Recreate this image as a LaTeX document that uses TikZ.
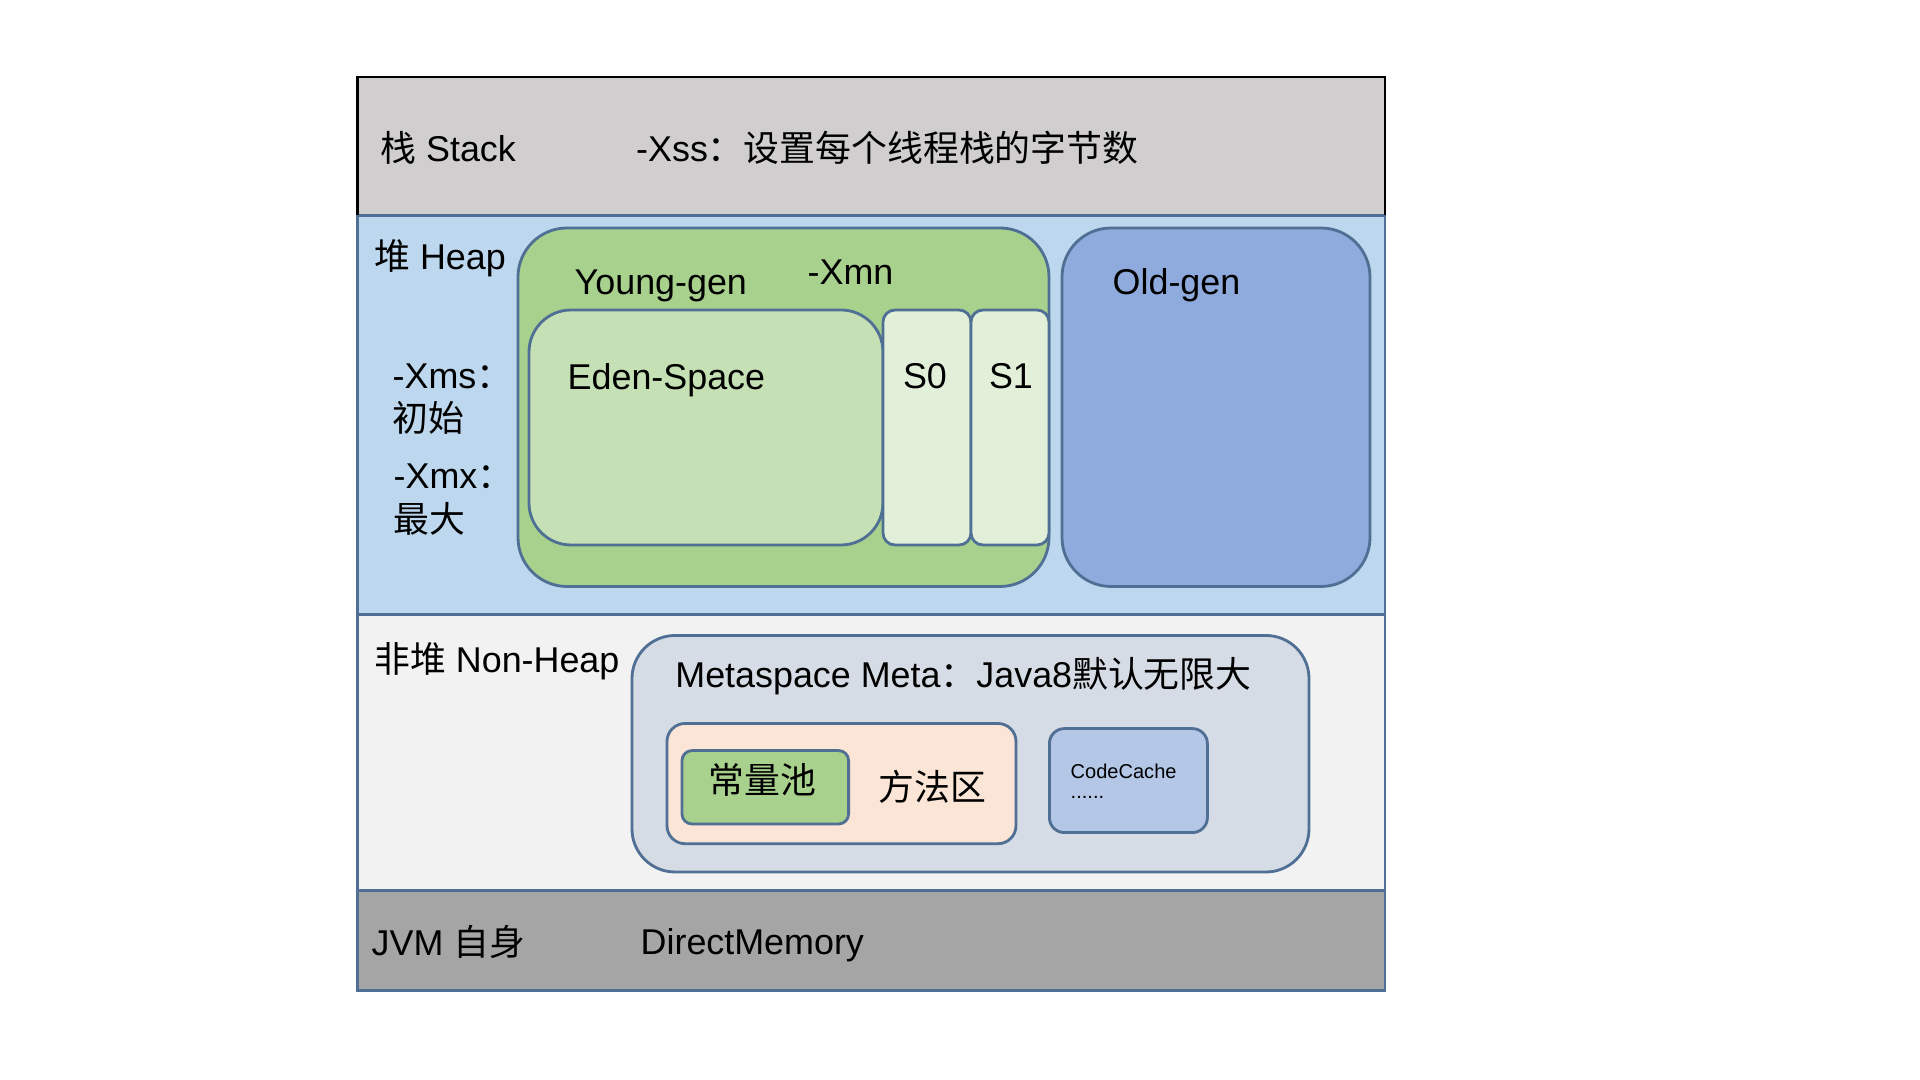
\documentclass[tikz,border=0pt]{standalone}
\usepackage{fontspec}
\setmainfont{Liberation Sans}
\newfontfamily\cjk{Noto Sans CJK SC}
\usepackage{tikz}

\definecolor{stackgray}{HTML}{D0CECE}
\definecolor{heapblue}{HTML}{BDD7EE}
\definecolor{nonheapgray}{HTML}{F2F2F2}
\definecolor{jvmgray}{HTML}{A5A5A5}
\definecolor{boxline}{HTML}{4F6F94}
\definecolor{younggreen}{HTML}{A9D18E}
\definecolor{edengreen}{HTML}{C5E0B4}
\definecolor{survgreen}{HTML}{E2F0D9}
\definecolor{oldblue}{HTML}{8FAADC}
\definecolor{metagray}{HTML}{D6DCE5}
\definecolor{methodpeach}{HTML}{FBE5D6}
\definecolor{cacheblue}{HTML}{B4C7E7}

\begin{document}
\begin{tikzpicture}[x=0.01cm,y=-0.01cm,
    every node/.style={inner sep=0pt,anchor=west,font=\fontsize{10.2}{12}\selectfont},
    box/.style={draw=boxline,line width=0.8pt}]
    \useasboundingbox (0,0) rectangle (1920,1080);
    \fill[white] (0,0) rectangle (1920,1080);

    % the four bands
    \foreach \ya/\yb/\col in {77/215.5/stackgray, 215.5/614.7/heapblue, 614.7/890.2/nonheapgray, 890.2/990.6/jvmgray}
    {
        \filldraw[box,fill=\col] (357.5,\ya) rectangle (1385,\yb);
    }
    \draw[black,line width=0.8pt] (357.5,215.5) -- (357.5,77) -- (1385,77) -- (1385,215.5);

    % heap
    \filldraw[box,fill=younggreen,rounded corners=0.49cm] (518,228) rectangle (1049,586.5);
    \filldraw[box,fill=edengreen,rounded corners=0.42cm] (529,310) rectangle (883,545);
    \filldraw[box,fill=survgreen,rounded corners=0.12cm] (883,310) rectangle (971,545);
    \filldraw[box,fill=survgreen,rounded corners=0.12cm] (971,310) rectangle (1049,545);
    \filldraw[box,fill=oldblue,rounded corners=0.49cm] (1062,228) rectangle (1370,586.5);

    % non-heap
    \filldraw[box,fill=metagray,rounded corners=0.43cm] (632,635.5) rectangle (1309,872);
    \filldraw[box,fill=methodpeach,rounded corners=0.18cm] (667,723.5) rectangle (1016,843.7);
    \filldraw[box,fill=younggreen,rounded corners=0.10cm] (682,750.6) rectangle (848.6,824);
    \filldraw[box,fill=cacheblue,rounded corners=0.15cm] (1049.4,728.6) rectangle (1207.4,832.6);

    % texts
    \node (stack)   at (379.6,148) {{\cjk 栈} Stack};
    \node (xss)     at (635.5,148) {-Xss{\cjk ：设置每个线程栈的字节数}};
    \node (heap)    at (373.5,258) {{\cjk 堆} Heap};
    \node (young)   at (574,285.5) {Young-gen};
    \node (xmn)     at (807,272)   {-Xmn};
    \node (eden)    at (567,380)   {Eden-Space};
    \node[anchor=center] (s0) at (925,376)  {S0};
    \node[anchor=center] (s1) at (1011,376) {S1};
    \node (old)     at (1112,285.5) {Old-gen};
    \node (xms)     at (392,376)   {-Xms{\cjk ：}};
    \node (xmsinit) at (392,417.5) {\cjk 初始};
    \node (xmx)     at (393,476)   {-Xmx{\cjk ：}};
    \node (xmxmax)  at (393,519)   {\cjk 最大};
    \node (nonheap) at (373.5,661) {{\cjk 非堆} Non-Heap};
    \node (meta)    at (674.7,676) {Metaspace Meta{\cjk ：}Java8{\cjk 默认无限大}};
    \node (const)   at (707.8,780) {\cjk 常量池};
    \node (method)  at (878,787)   {\cjk 方法区};
    \node[font=\fontsize{5.7}{7}\selectfont] (codecache) at (1070,771) {CodeCache};
    \node[font=\fontsize{5.7}{7}\selectfont] (dots)      at (1070,797) {......};
    \node (jvm)     at (371,941.6) {JVM {\cjk 自身}};
    \node (direct)  at (640,945.5) {DirectMemory};
\end{tikzpicture}
\end{document}
